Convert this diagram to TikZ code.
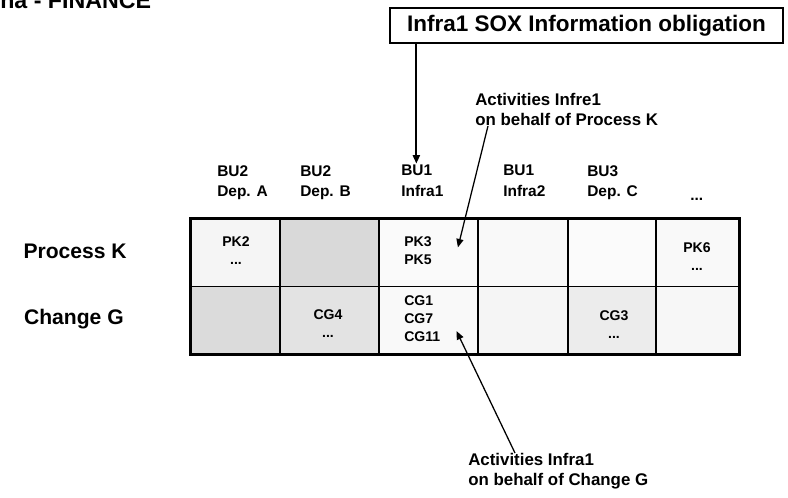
\documentclass[tikz,border=0pt]{standalone}
\usepackage{fontspec}
\setmainfont{Liberation Sans}
\usetikzlibrary{positioning, arrows.meta}

\begin{document}
\begin{tikzpicture}[
  x=0.25mm, y=-0.25mm,
  ttl/.style={inner sep=0pt, anchor=base west, font=\bfseries\fontsize{16.5}{20}\selectfont},
  oblig/.style={draw, line width=1.2pt, minimum width=98.25mm, minimum height=8.75mm, inner sep=0pt, font=\bfseries\fontsize{16}{19}\selectfont},
  hdr/.style={inner sep=0pt, anchor=north west, align=left, font=\bfseries\fontsize{11}{14.5}\selectfont},
  rowlbl/.style={inner sep=0pt, anchor=east, font=\bfseries\fontsize{15}{18}\selectfont},
  cell/.style={draw, line width=1.1pt, anchor=north west, inner sep=0pt, minimum height=16.875mm},
  entry/.style={inner sep=0pt, font=\bfseries\fontsize{10}{13}\selectfont},
  note/.style={inner sep=0pt, anchor=north west, align=left, font=\bfseries\fontsize{12}{14.2}\selectfont},
  arr/.style={-{Triangle[length=6pt, width=5pt]}, line width=0.9pt}
]
\useasboundingbox (0,0) rectangle (788,497);

% --- title and obligation box ---
\node[ttl]   (title) at (0,8)       {na - FINANCE};
\node[oblig] (sox)   at (586.5,25.5) {Infra1 SOX Information obligation};

% --- column heads ---
\node[hdr] (hA) at (217,165) {BU2\\Dep. A};
\node[hdr] (hB) at (300,165) {BU2\\Dep. B};
\node[hdr] (hC) at (401,165) {BU1\\Infra1};
\node[hdr] (hD) at (503,165) {BU1\\Infra2};
\node[hdr] (hE) at (587,165) {BU3\\Dep. C};
\node[hdr, anchor=base west] (hF) at (690,200) {...};

% --- row heads ---
\node[rowlbl] (rowK) at (127,251) {Process K};
\node[rowlbl] (rowG) at (124,319) {Change G};

% --- grid cells (k = Process K, g = Change G) ---
\foreach \x/\w/\n/\fk/\fg in {190/89/a/8/28, 279/99/b/30/22, 378/99/c/4/5,
                              477/90/d/5/8, 567/88/e/3/15, 655/83/f/5/6} {
  \node[cell, fill=gray!\fk, minimum width=\w*0.25mm] (k\n) at (\x,218)   {};
  \node[cell, fill=gray!\fg, minimum width=\w*0.25mm] (g\n) at (\x,285.5) {};
}
\draw[line width=1.5pt] (ka.north west) rectangle (gf.south east);

% --- cell entries ---
\node[entry, align=center, anchor=north]      (kA) at (236,236) {PK2\\...};
\node[entry, align=left,   anchor=north west] (kC) at (404,236) {PK3\\PK5};
\node[entry, align=center, anchor=north]      (kF) at (697,242) {PK6\\...};
\node[entry, align=center, anchor=north]      (gB) at (328,309) {CG4\\...};
\node[entry, align=left,   anchor=north west] (gC) at (404,295) {CG1\\CG7\\CG11};
\node[entry, align=center, anchor=north]      (gE) at (614,310) {CG3\\...};

% --- notes ---
\node[note] (noteK) at (475,93)  {Activities Infre1\\on behalf of Process K};
\node[note] (noteG) at (468,453) {Activities Infra1\\on behalf of Change G};

% --- arrows ---
\draw[arr, line width=1.4pt] ([xshift=-1.5mm]hC.north |- sox.south) -- ([xshift=-1.5mm,yshift=1pt]hC.north);
\draw[arr] ([xshift=3.25mm]noteK.south west) -- ([xshift=6.5mm,yshift=0.75mm]kC.east);
\draw[arr] ([xshift=11.75mm]noteG.north west) -- ([xshift=4mm,yshift=2.75mm]gC.south east);
\end{tikzpicture}
\end{document}
